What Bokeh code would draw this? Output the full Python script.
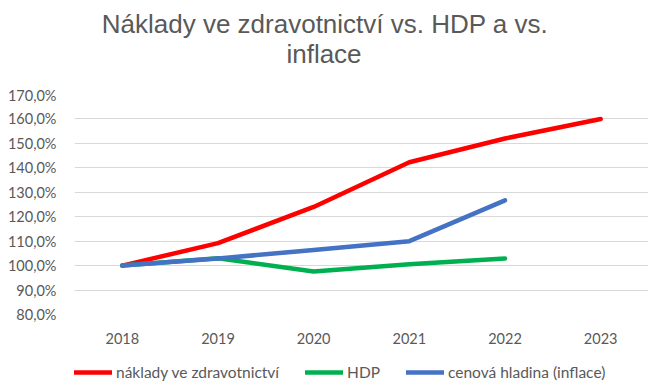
from bokeh.plotting import figure
from bokeh.layouts import column
from bokeh.models import Range1d, FixedTicker, Legend, LegendItem, FactorRange
from bokeh.core.properties import value
from bokeh.embed import file_html
from bokeh.resources import INLINE

years = ["2018", "2019", "2020", "2021", "2022", "2023"]
naklady = [100.0, 109.2, 124.0, 142.3, 152.0, 160.0]
hdp_years = ["2018", "2019", "2020", "2021", "2022"]
hdp = [100.0, 103.0, 97.6, 100.6, 102.9]
inflace_years = ["2018", "2019", "2020", "2021", "2022"]
inflace = [100.0, 102.9, 106.4, 110.0, 126.7]
y_ticks = [80, 90, 100, 110, 120, 130, 140, 150, 160, 170]
y_labels = ["80,0%", "90,0%", "100,0%", "110,0%", "120,0%", "130,0%",
            "140,0%", "150,0%", "160,0%", "170,0%"]
series_names = ["náklady ve zdravotnictví", "HDP", "cenová hladina (inflace)"]
series_colors = ["#ff0000", "#00b050", "#4472c4"]
title_lines = ["Náklady ve zdravotnictví vs. HDP a vs.", "inflace"]

GREY = "#595959"
LABEL_FONT = "Lato"
W = 658
FRAME_L, FRAME_R = 74, 648

series = [(years, naklady), (hdp_years, hdp), (inflace_years, inflace)]

# --- title strip (pixel-like coordinates, y grows downward) ---
head = figure(width=W, height=86, output_backend="svg", toolbar_location=None,
              x_range=Range1d(FRAME_L, FRAME_R), y_range=Range1d(86, 0),
              x_axis_type=None, y_axis_type=None,
              min_border_left=FRAME_L, min_border_right=W - FRAME_R,
              min_border_top=0, min_border_bottom=0, title=None)
head.outline_line_color = None
head.text(x=[324.5, 323.5], y=[23.5, 53], text=title_lines,
          text_font=value("Liberation Sans"), text_font_size="26px",
          text_color=GREY, text_align="center", text_baseline="middle")

# --- main chart ---
p = figure(width=W, height=264, output_backend="svg", toolbar_location=None,
           x_range=FactorRange(*years, range_padding=0),
           y_range=Range1d(80, 170),
           min_border_left=FRAME_L, min_border_right=W - FRAME_R,
           min_border_top=8, min_border_bottom=36, title=None)
p.outline_line_color = None

for (xs, ys), c in zip(series, series_colors):
    p.line(xs, ys, line_color=c, line_width=4.5, line_cap="round", line_join="round")

p.xgrid.grid_line_color = None
p.ygrid.grid_line_color = "#d9d9d9"
p.ygrid.grid_line_width = 1.2

p.yaxis.ticker = FixedTicker(ticks=y_ticks)
p.yaxis.major_label_overrides = {t: l for t, l in zip(y_ticks, y_labels)}
for ax in (p.xaxis[0], p.yaxis[0]):
    ax.axis_line_color = None
    ax.major_tick_line_color = None
    ax.minor_tick_line_color = None
    ax.major_tick_out = 0
    ax.major_tick_in = 0
    ax.major_label_text_color = GREY
    ax.major_label_text_font = LABEL_FONT
    ax.major_label_text_font_size = "14.5px"
p.yaxis.major_label_standoff = 18
p.xaxis.major_label_standoff = 18

# --- legend strip (series drawn off-view only so the legend has glyphs) ---
leg = figure(width=W, height=42, output_backend="svg", toolbar_location=None,
             x_range=FactorRange(*years, range_padding=0), y_range=Range1d(0, 1),
             x_axis_type=None, y_axis_type=None,
             min_border_left=FRAME_L, min_border_right=W - FRAME_R,
             min_border_top=0, min_border_bottom=0, title=None)
leg.outline_line_color = None
leg.xgrid.grid_line_color = None
leg.ygrid.grid_line_color = None
items = []
for name, (xs, ys), c in zip(series_names, series, series_colors):
    r = leg.line(xs, ys, line_color=c, line_width=4.5, line_cap="round")
    items.append(LegendItem(label=name, renderers=[r]))
legend = Legend(items=items, orientation="horizontal", location=(0, 10),
                glyph_width=38, label_standoff=4, spacing=26,
                label_text_font=LABEL_FONT, label_text_font_size="15.5px",
                label_text_color=GREY, border_line_color=None,
                background_fill_alpha=0, margin=0, padding=0)
leg.add_layout(legend, "center")

layout = column(head, p, leg, spacing=0)
open("out.html", "w").write(file_html(layout, INLINE))
